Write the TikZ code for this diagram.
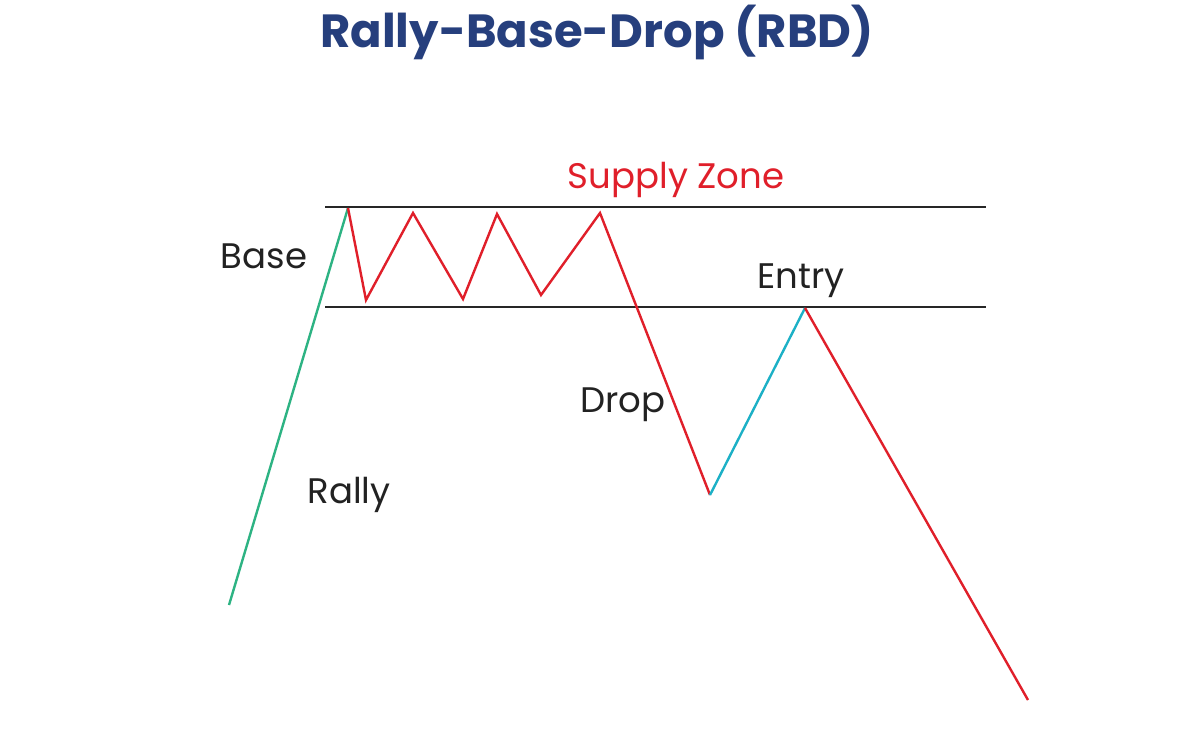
\documentclass[tikz,border=0pt]{standalone}
\usepackage{fontspec}
\setmainfont{Poppins}
\definecolor{titleblue}{HTML}{263F7D}
\definecolor{zred}{HTML}{E01F2A}
\definecolor{zgreen}{HTML}{2DB383}
\definecolor{zcyan}{HTML}{1CB0C6}
\definecolor{ztext}{HTML}{222222}
\begin{document}
\begin{tikzpicture}[x=1pt,y=-1pt,
  zone/.style={draw=black!85,line width=2.6pt},
  redleg/.style={draw=zred,line width=2.4pt,line join=miter},
  greenleg/.style={draw=zgreen,line width=2.4pt},
  cyanleg/.style={draw=zcyan,line width=2.4pt},
  lbl/.style={text=ztext,font=\fontsize{35.5}{40}\selectfont,inner sep=0pt}]
\useasboundingbox[fill=white] (0,0) rectangle (1200,729);
\node[font=\bfseries\fontsize{46.5}{54}\selectfont,text=titleblue] (title) at (597,32) {Rally-Base-Drop (RBD)};
% zone lines
\coordinate (tl) at (325,207); \coordinate (tr) at (986,207);
\coordinate (bl) at (325,307); \coordinate (br) at (986,307);
\draw[zone] (tl) -- (tr);
\draw[zone] (bl) -- (br);
% price path
\coordinate (p0) at (229,605);
\coordinate (p1) at (348,208);
\coordinate (p2) at (366,300);
\coordinate (p3) at (413,213);
\coordinate (p4) at (463,299);
\coordinate (p5) at (497,214);
\coordinate (p6) at (541,295);
\coordinate (p7) at (600,213);
\coordinate (p8) at (710,495);
\coordinate (p9) at (805,308);
\coordinate (p10) at (1028,700);
\draw[greenleg] (p0) -- (p1);
\draw[redleg] (p1) -- (p2) -- (p3) -- (p4) -- (p5) -- (p6) -- (p7) -- (p8);
\draw[cyanleg] (p8) -- (p9);
\draw[redleg] (p9) -- (p10);
% labels
\node[lbl,text=zred] (supply) at (676,180) {Supply Zone};
\node[lbl] (base) at (264,256) {Base};
\node[lbl] (entry) at (801,281) {Entry};
\node[lbl] (drop) at (623,405) {Drop};
\node[lbl] (rally) at (349,495) {Rally};
\end{tikzpicture}
\end{document}
